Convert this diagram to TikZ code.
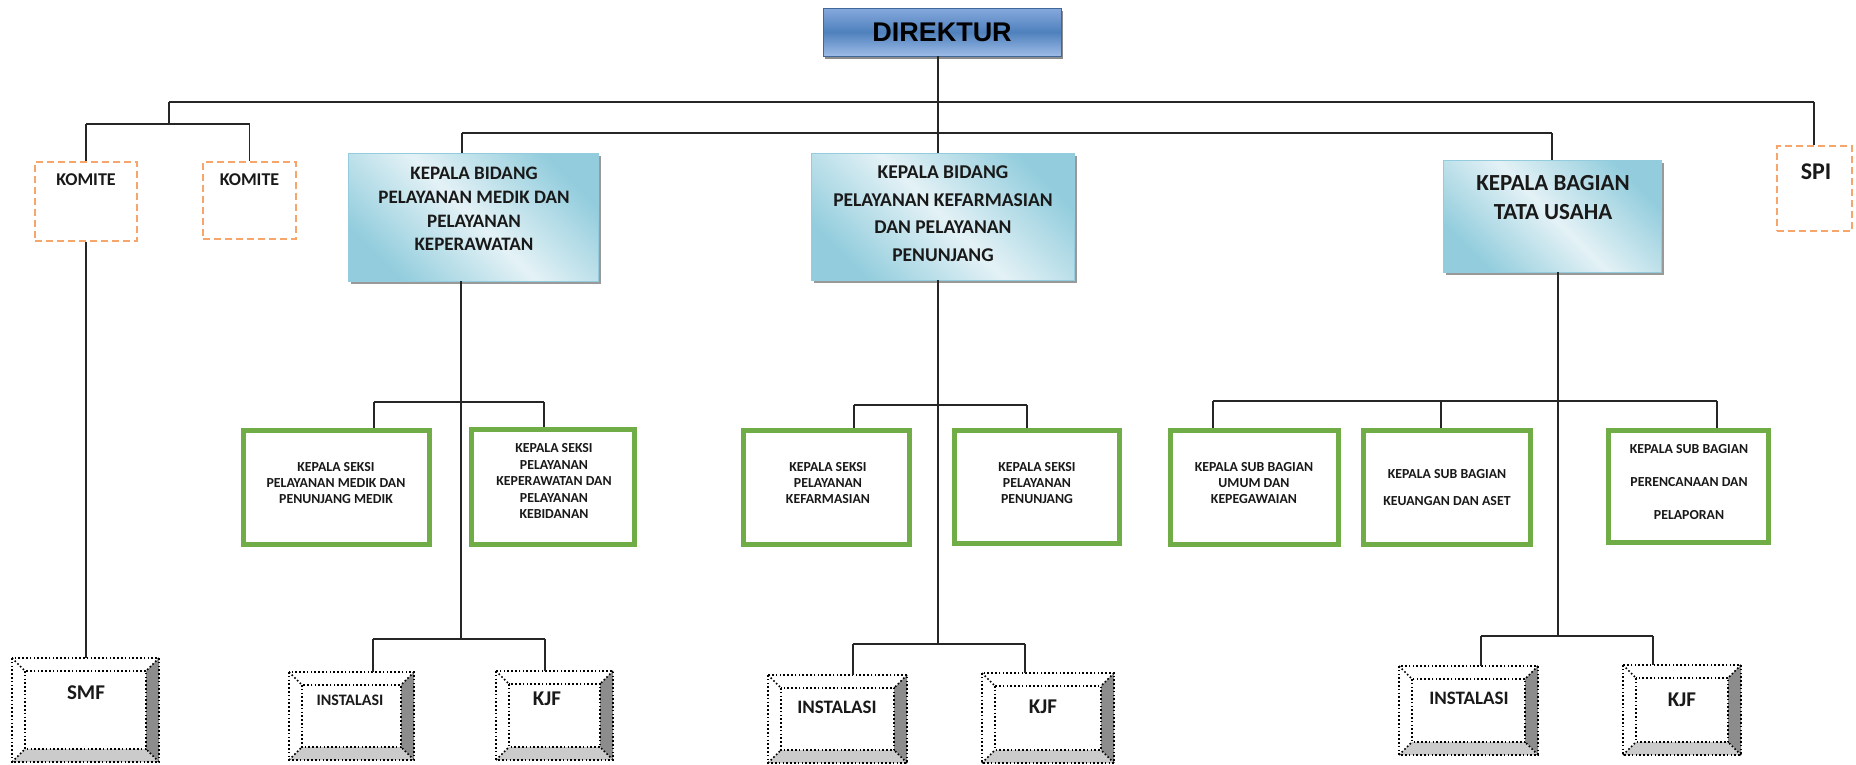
\documentclass[tikz,border=0pt]{standalone}
\usepackage{fontspec}
\setmainfont{Carlito}
\newfontfamily\arialf{Liberation Sans}
\usetikzlibrary{shadows}
\definecolor{orangeC}{HTML}{F6A66A}
\definecolor{greenC}{HTML}{70AD47}
\definecolor{cyanD}{HTML}{93CDDD}
\definecolor{cyanL}{HTML}{E4F2F6}
\definecolor{blueT}{HTML}{86A9DD}
\definecolor{blueM}{HTML}{4F81BD}
\definecolor{blueB}{HTML}{9DBBE6}
\definecolor{bevD}{HTML}{8C8C8C}
\definecolor{bevL}{HTML}{CBCBCB}
\definecolor{lineC}{HTML}{262626}
\newcommand\fsz[2]{\fontsize{#1}{#2}\selectfont\bfseries}
\tikzset{
  conn/.style={draw=lineC, line width=1.3pt},
  dirbox/.style={rectangle, inner sep=0pt, top color=blueT, bottom color=blueB, middle color=blueM,
    draw=blueM!80!black, line width=0.8pt,
    drop shadow={shadow xshift=2pt, shadow yshift=-3pt, fill=black!45, opacity=1}},
  kbbox/.style={rectangle, inner sep=0pt, top color=cyanD, bottom color=cyanD, middle color=cyanL,
    shading angle=-45, draw=cyanD, line width=0.8pt,
    drop shadow={shadow xshift=3pt, shadow yshift=-3pt, fill=black!40, opacity=1}},
  cmt/.style={rectangle, draw=orangeC, line width=1.8pt, dash pattern=on 7pt off 4pt, inner sep=0pt},
  grn/.style={rectangle, draw=greenC, line width=5pt, fill=white, inner sep=0pt},
  bev/.style={rectangle, fill=white, inner sep=0pt, outer sep=0pt},
  dotl/.style={draw=black, line width=1.6pt, dash pattern=on 1.6pt off 2.2pt},
  ttxt/.style={align=center, inner sep=0pt, text=black!90},
}
\newcommand\bevdeco[1]{%
  \fill[bevD] (#1.north east) -- (#1.south east) -- ([shift={(-13pt,13pt)}]#1.south east) -- ([shift={(-13pt,-13pt)}]#1.north east) -- cycle;
  \fill[bevL] (#1.south west) -- (#1.south east) -- ([shift={(-13pt,13pt)}]#1.south east) -- ([shift={(13pt,13pt)}]#1.south west) -- cycle;
  \draw[dotl] (#1.north west) rectangle (#1.south east);
  \draw[dotl] ([shift={(13pt,-13pt)}]#1.north west) rectangle ([shift={(-13pt,13pt)}]#1.south east);
  \draw[dotl] (#1.north west) -- ++(13pt,-13pt);
  \draw[dotl] (#1.north east) -- ++(-13pt,-13pt);
  \draw[dotl] (#1.south west) -- ++(13pt,13pt);
  \draw[dotl] (#1.south east) -- ++(-13pt,13pt);
}
\begin{document}
\begin{tikzpicture}[x=1pt, y=-1pt]
\useasboundingbox (0,0) rectangle (1856,764);

% ---------- top level
\node[dirbox, minimum width=238pt, minimum height=48pt, font=\arialf\fsz{27}{30}] (dir) at (942,32) {DIREKTUR};

% ---------- komite / spi
\node[cmt, minimum width=102pt, minimum height=79pt] (k1) at (86,201.5) {};
\node[ttxt, font=\fsz{18}{20}] (k1t) at (86,180) {KOMITE};
\node[cmt, minimum width=93pt, minimum height=77pt] (k2) at (249.5,200.5) {};
\node[ttxt, font=\fsz{18}{20}] (k2t) at (249.5,180) {KOMITE};
\node[cmt, minimum width=75pt, minimum height=85pt] (spi) at (1814.5,188.5) {};
\node[ttxt, font=\fsz{24}{26}] (spit) at (1816,172) {SPI};

% ---------- kepala bidang / bagian
\node[kbbox, minimum width=250pt, minimum height=128pt] (kb1) at (473,217) {};
\node[ttxt, font=\fsz{19}{23.8}] (kb1t) at (474,209) {KEPALA BIDANG\\PELAYANAN MEDIK DAN\\PELAYANAN\\KEPERAWATAN};
\node[kbbox, minimum width=263pt, minimum height=127pt] (kb2) at (942.5,216.5) {};
\node[ttxt, font=\fsz{19.5}{27.6}] (kb2t) at (943,213.5) {KEPALA BIDANG\\PELAYANAN KEFARMASIAN\\DAN PELAYANAN\\PENUNJANG};
\node[kbbox, minimum width=218pt, minimum height=112pt] (kb3) at (1552,216) {};
\node[ttxt, font=\fsz{23}{29}] (kb3t) at (1553,197.5) {KEPALA BAGIAN\\TATA USAHA};

% ---------- green boxes
\node[grn, minimum width=186pt, minimum height=114pt] (g1) at (336.5,487.5) {};
\node[ttxt, font=\fsz{13.8}{16}] (g1t) at (336,483) {KEPALA SEKSI\\PELAYANAN MEDIK DAN\\PENUNJANG MEDIK};
\node[grn, minimum width=163pt, minimum height=115pt] (g2) at (553,487) {};
\node[ttxt, font=\fsz{13.8}{16.5}] (g2t) at (554,481) {KEPALA SEKSI\\PELAYANAN\\KEPERAWATAN DAN\\PELAYANAN\\KEBIDANAN};
\node[grn, minimum width=166pt, minimum height=114pt] (g3) at (826.5,487.5) {};
\node[ttxt, font=\fsz{13.8}{16}] (g3t) at (828,483) {KEPALA SEKSI\\PELAYANAN\\KEFARMASIAN};
\node[grn, minimum width=165pt, minimum height=113pt] (g4) at (1037,487) {};
\node[ttxt, font=\fsz{13.8}{16}] (g4t) at (1037,483) {KEPALA SEKSI\\PELAYANAN\\PENUNJANG};
\node[grn, minimum width=168pt, minimum height=114pt] (g5) at (1254.5,487.5) {};
\node[ttxt, font=\fsz{13.8}{16}] (g5t) at (1254,483) {KEPALA SUB BAGIAN\\UMUM DAN\\KEPEGAWAIAN};
\node[grn, minimum width=167pt, minimum height=114pt] (g6) at (1447,487.5) {};
\node[ttxt, font=\fsz{13.8}{27}] (g6t) at (1447,487.5) {KEPALA SUB BAGIAN\\KEUANGAN DAN ASET};
\node[grn, minimum width=160pt, minimum height=112pt] (g7) at (1688.5,486.5) {};
\node[ttxt, font=\fsz{13.8}{33}] (g7t) at (1689,482) {KEPALA SUB BAGIAN\\PERENCANAAN DAN\\PELAPORAN};

% ---------- bevel boxes
\node[bev, minimum width=147pt, minimum height=104pt] (smf) at (85.5,710) {};
\bevdeco{smf}
\node[ttxt, font=\fsz{21}{23}] (smft) at (86,693) {SMF};
\node[bev, minimum width=125pt, minimum height=88pt] (ins1) at (351.5,716) {};
\bevdeco{ins1}
\node[ttxt, font=\fsz{16}{18}] (ins1t) at (350,700) {INSTALASI};
\node[bev, minimum width=117pt, minimum height=89pt] (kjf1) at (554.5,715.5) {};
\bevdeco{kjf1}
\node[ttxt, font=\fsz{21}{23}] (kjf1t) at (547,699) {KJF};
\node[bev, minimum width=139pt, minimum height=88pt] (ins2) at (837.5,719) {};
\bevdeco{ins2}
\node[ttxt, font=\fsz{19}{21}] (ins2t) at (837,707) {INSTALASI};
\node[bev, minimum width=132pt, minimum height=90pt] (kjf2) at (1048,718) {};
\bevdeco{kjf2}
\node[ttxt, font=\fsz{21}{23}] (kjf2t) at (1043,707) {KJF};
\node[bev, minimum width=139pt, minimum height=89pt] (ins3) at (1468.5,710.5) {};
\bevdeco{ins3}
\node[ttxt, font=\fsz{19}{21}] (ins3t) at (1469,698) {INSTALASI};
\node[bev, minimum width=118pt, minimum height=90pt] (kjf3) at (1682,710) {};
\bevdeco{kjf3}
\node[ttxt, font=\fsz{21}{23}] (kjf3t) at (1682,700) {KJF};

% ---------- coordinates of connector junctions
\coordinate (tl) at (169,102);
\coordinate (tr) at (1814,102);
\coordinate (kc) at (169,124);
\coordinate (ml) at (462,133);
\coordinate (mr) at (1552,133);
\coordinate (b1) at (461,639);
\coordinate (b2) at (938,644);
\coordinate (b3) at (1558,636);
\coordinate (gv1) at (374,402);
\coordinate (gv2) at (544,402);
\coordinate (gv3) at (854,405);
\coordinate (gv4) at (1027,405);
\coordinate (gv5) at (1213,401);
\coordinate (gv6) at (1441,401);
\coordinate (gv7) at (1717,401);
\coordinate (bv1) at (373,639);
\coordinate (bv2) at (545,639);
\coordinate (bv3) at (853,644);
\coordinate (bv4) at (1025,644);
\coordinate (bv5) at (1481,636);
\coordinate (bv6) at (1653,636);

% ---------- connectors
\draw[conn] (dir.south -| b2) -- (kb2.north -| b2);
\draw[conn] (tl) -- (tr);
\draw[conn] (tr) -- (tr |- spi.north);
\draw[conn] (tl) -- (kc);
\draw[conn] (k1.north |- kc) -- (k2.north |- kc);
\draw[conn] (k1.north |- kc) -- (k1.north);
\draw[conn] (k2.north |- kc) -- (k2.north);
\draw[conn] (k1.south) -- (k1.south |- smf.north);
\draw[conn] (ml) -- (mr);
\draw[conn] (ml) -- (ml |- kb1.north);
\draw[conn] (mr) -- (mr |- kb3.north);

% cluster 1
\draw[conn] (b1 |- kb1.south) -- (b1);
\draw[conn] (gv1) -- (gv2);
\draw[conn] (gv1) -- (gv1 |- g1.north);
\draw[conn] (gv2) -- (gv2 |- g2.north);
\draw[conn] (bv1) -- (bv2);
\draw[conn] (bv1) -- (bv1 |- ins1.north);
\draw[conn] (bv2) -- (bv2 |- kjf1.north);

% cluster 2
\draw[conn] (b2 |- kb2.south) -- (b2);
\draw[conn] (gv3) -- (gv4);
\draw[conn] (gv3) -- (gv3 |- g3.north);
\draw[conn] (gv4) -- (gv4 |- g4.north);
\draw[conn] (bv3) -- (bv4);
\draw[conn] (bv3) -- (bv3 |- ins2.north);
\draw[conn] (bv4) -- (bv4 |- kjf2.north);

% cluster 3
\draw[conn] (b3 |- kb3.south) -- (b3);
\draw[conn] (gv5) -- (gv7);
\draw[conn] (gv5) -- (gv5 |- g5.north);
\draw[conn] (gv6) -- (gv6 |- g6.north);
\draw[conn] (gv7) -- (gv7 |- g7.north);
\draw[conn] (bv5) -- (bv6);
\draw[conn] (bv5) -- (bv5 |- ins3.north);
\draw[conn] (bv6) -- (bv6 |- kjf3.north);
\end{tikzpicture}
\end{document}
